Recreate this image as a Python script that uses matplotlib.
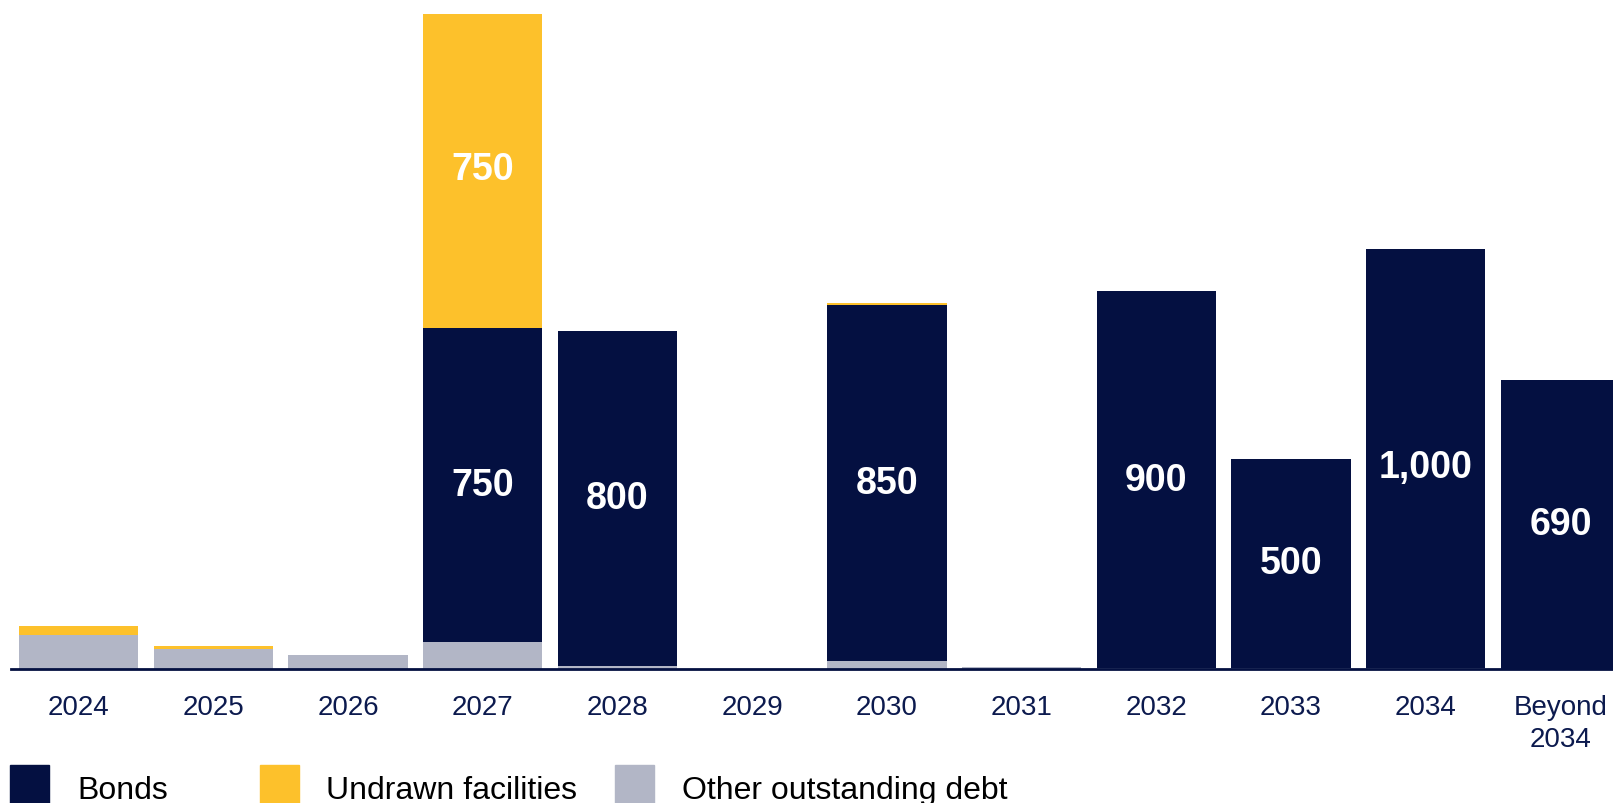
import matplotlib
matplotlib.use("Agg")
import matplotlib.pyplot as plt
from matplotlib.patches import Rectangle

plt.rcParams['font.family'] = ['Liberation Sans', 'DejaVu Sans']

categories = ["2024", "2025", "2026", "2027", "2028", "2029", "2030",
              "2031", "2032", "2033", "2034", "Beyond\n2034"]
other_debt = [82, 48, 34, 65, 8, 0, 20, 5, 2, 2, 2, 1]
bonds = [0, 0, 0, 750, 800, 0, 850, 0, 900, 500, 1000, 690]
undrawn = [20, 7, 0, 750, 0, 0, 3, 0, 0, 0, 0, 0]
bond_labels = ["", "", "", "750", "800", "", "850", "", "900", "500", "1,000", "690"]
undrawn_labels = ["", "", "", "750", "", "", "", "", "", "", "", ""]

NAVY = "#041041"
YELLOW = "#FDC12B"
GRAY = "#B2B6C6"
TICK = "#0C1A4E"

W, H = 1613, 804
fig = plt.figure(figsize=(W / 100, H / 100), dpi=100)
ax = fig.add_axes([11 / W, (H - 670) / H, (W - 11) / W, 670 / H])

x = list(range(len(categories)))
bw = 0.886
ax.bar(x, other_debt, width=bw, color=GRAY, linewidth=0)
ax.bar(x, bonds, width=bw, bottom=other_debt, color=NAVY, linewidth=0)
b2 = [o + b for o, b in zip(other_debt, bonds)]
ax.bar(x, undrawn, width=bw, bottom=b2, color=YELLOW, linewidth=0)

label_shift = {10: -20}
for i in x:
    if bond_labels[i]:
        ax.text(i, other_debt[i] + bonds[i] / 2 + label_shift.get(i, 0), bond_labels[i],
                ha="center", va="center", color="white", fontsize=27, fontweight="bold")
    if undrawn_labels[i]:
        ax.text(i, b2[i] + undrawn[i] / 2 + 5, undrawn_labels[i], ha="center", va="center",
                color="white", fontsize=27, fontweight="bold")

ax.set_xlim(-0.502, 11.39)
ax.set_ylim(0, 1600)
for s in ["top", "right", "left"]:
    ax.spines[s].set_visible(False)
ax.spines["bottom"].set_color(NAVY)
ax.spines["bottom"].set_linewidth(2)
ax.set_yticks([])
ax.set_xticks(x)
ax.set_xticklabels(categories, fontsize=20, color=TICK, linespacing=1.3)
ax.tick_params(axis="x", length=0, pad=18)

# Legend
items = [("Bonds", NAVY, 10, 77), ("Undrawn facilities", YELLOW, 260, 326),
         ("Other outstanding debt", GRAY, 615, 682)]
for label, col, sx, tx in items:
    fig.patches.append(Rectangle((sx / W, 0), 39 / W, 38 / H, transform=fig.transFigure,
                                 color=col, figure=fig))
    fig.text(tx / W, (H - 791) / H, label, fontsize=23, color="black", va="center", ha="left")

fig.savefig("out.png", dpi=100)
